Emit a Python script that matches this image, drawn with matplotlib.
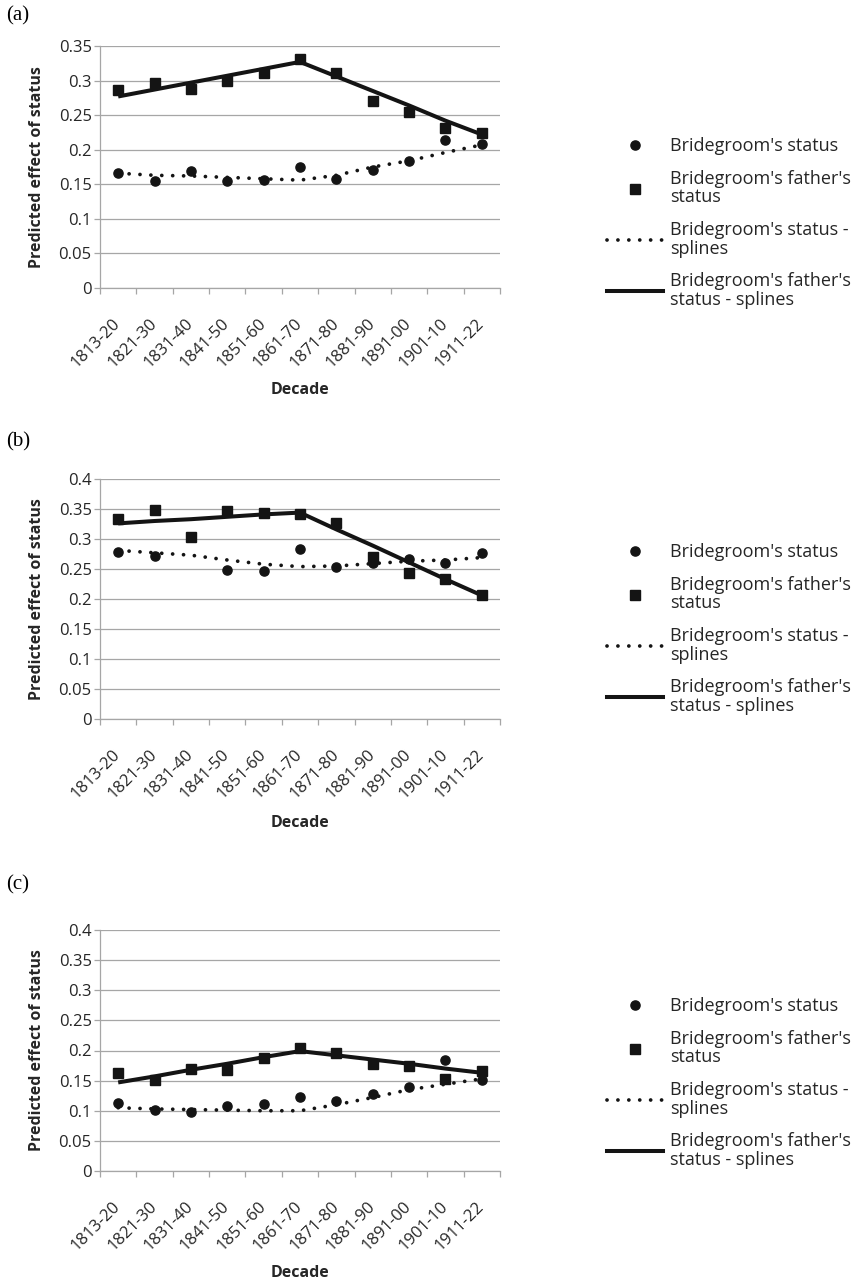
import matplotlib
matplotlib.use('Agg')
import matplotlib.pyplot as plt
from matplotlib.lines import Line2D
import numpy as np

decades = ['1813-20', '1821-30', '1831-40', '1841-50', '1851-60', '1861-70',
           '1871-80', '1881-90', '1891-00', '1901-10', '1911-22']

# panel (a)
a_status = [0.166, 0.155, 0.169, 0.155, 0.156, 0.175, 0.158, 0.171, 0.183, 0.214, 0.208]
a_father = [0.287, 0.297, 0.288, 0.300, 0.311, 0.331, 0.311, 0.271, 0.254, 0.231, 0.224]
a_status_spl = [0.166, 0.163, 0.162, 0.160, 0.158, 0.156, 0.163, 0.175, 0.184, 0.196, 0.207]
a_father_spl = [0.277, 0.287, 0.297, 0.307, 0.317, 0.327, 0.306, 0.285, 0.264, 0.242, 0.222]

# panel (b)
b_status = [0.278, 0.272, 0.303, 0.249, 0.246, 0.283, 0.253, 0.260, 0.267, 0.260, 0.276]
b_father = [0.333, 0.348, 0.304, 0.347, 0.343, 0.341, 0.327, 0.270, 0.243, 0.234, 0.207]
b_status_spl = [0.281, 0.277, 0.273, 0.265, 0.258, 0.254, 0.255, 0.259, 0.263, 0.265, 0.269]
b_father_spl = [0.326, 0.330, 0.333, 0.337, 0.341, 0.344, 0.316, 0.289, 0.261, 0.233, 0.206]

# panel (c)
c_status = [0.113, 0.102, 0.098, 0.108, 0.112, 0.123, 0.116, 0.127, 0.140, 0.185, 0.151]
c_father = [0.163, 0.151, 0.170, 0.167, 0.188, 0.204, 0.196, 0.177, 0.174, 0.153, 0.166]
c_status_spl = [0.105, 0.103, 0.102, 0.101, 0.100, 0.100, 0.110, 0.122, 0.135, 0.144, 0.153]
c_father_spl = [0.147, 0.157, 0.168, 0.178, 0.189, 0.199, 0.192, 0.185, 0.178, 0.170, 0.163]

legend_labels = ["Bridegroom's status", "Bridegroom's father's\nstatus",
                 "Bridegroom's status -\nsplines", "Bridegroom's father's\nstatus - splines"]

plt.rcParams['font.family'] = ['Open Sans', 'DejaVu Sans']
TXT = '#262626'
GRID = '#a6a6a6'
INK = '#141414'
W, H = 861, 1284

fig = plt.figure(figsize=(W / 100, H / 100), dpi=100)

dot_style = (0, (0.01, 2.9))
SQ, CI = 7.2, 6.6


def px_box(left, top, right, bottom):
    return [left / W, 1 - bottom / H, (right - left) / W, (bottom - top) / H]


def draw_panel(tag, tag_y, box, ymax, status, father, status_spl, father_spl, leg_y, xlabel_y):
    ax = fig.add_axes(px_box(*box))
    x = np.arange(len(decades))
    ax.plot(x, status, 'o', color=INK, ms=CI, zorder=3)
    ax.plot(x, father, 's', color=INK, ms=SQ, zorder=4)
    ax.plot(x, status_spl, color=INK, lw=2.7, linestyle=dot_style,
            dash_capstyle='round', zorder=5)
    ax.plot(x, father_spl, color=INK, lw=2.9, solid_capstyle='butt', zorder=6)

    ax.set_xlim(-0.5, len(decades) - 0.5)
    ax.set_ylim(0, ymax)
    yt = np.arange(0, ymax + 0.001, 0.05).round(2)
    ax.set_yticks(yt)
    ax.set_yticklabels([f'{v:g}' for v in yt])
    ax.set_xticks(x)
    ax.set_xticklabels(decades, rotation=45, ha='right', va='center',
                       rotation_mode='anchor')
    ax.set_xticks(np.arange(-0.5, len(decades)), minor=True)
    ax.tick_params(axis='x', which='major', length=0, pad=24, labelsize=12, labelcolor=TXT)
    ax.tick_params(axis='x', which='minor', length=4, width=0.9, color=GRID, direction='out')
    ax.tick_params(axis='y', length=4, width=0.9, color=GRID, pad=2, labelsize=12, labelcolor=TXT)
    ax.grid(axis='y', color=GRID, lw=0.9)
    ax.set_axisbelow(True)
    for s in ['top', 'right']:
        ax.spines[s].set_visible(False)
    for s in ['left', 'bottom']:
        ax.spines[s].set_color(GRID)
        ax.spines[s].set_linewidth(0.9)

    ax.set_ylabel('Predicted effect of status', fontsize=11.5, fontweight='bold', color=TXT)
    ax.yaxis.set_label_coords(-0.1375, 0.5)
    fig.text((box[0] + box[2]) / 2 / W, 1 - xlabel_y / H, 'Decade', fontsize=11.5,
             fontweight='bold', color=TXT, ha='center', va='center')
    fig.text(6 / W, 1 - tag_y / H, tag, family='Liberation Serif', fontsize=15,
             color='black', ha='left', va='center')

    handles = [
        Line2D([], [], ls='none', marker='o', color=INK, ms=CI),
        Line2D([], [], ls='none', marker='s', color=INK, ms=SQ),
        Line2D([], [], color=INK, lw=2.7, linestyle=dot_style, dash_capstyle='round'),
        Line2D([], [], color=INK, lw=2.9),
    ]
    leg = fig.legend(handles, legend_labels, loc='center left',
                     bbox_to_anchor=(607 / W, 1 - leg_y / H), frameon=False,
                     fontsize=13, labelcolor=TXT, handlelength=3.1, handletextpad=0.4,
                     borderpad=0, borderaxespad=0, labelspacing=0.8)
    for t in leg.get_texts():
        t.set_linespacing(1.05)
    return ax


draw_panel('(a)', 16, (100, 46, 500, 288), 0.35,
           a_status, a_father, a_status_spl, a_father_spl, 223, 390)
draw_panel('(b)', 442, (100, 479, 500, 719), 0.4,
           b_status, b_father, b_status_spl, b_father_spl, 629, 823)
draw_panel('(c)', 885, (100, 930, 500, 1171), 0.4,
           c_status, c_father, c_status_spl, c_father_spl, 1083, 1273)

fig.savefig('out.png', dpi=100)
